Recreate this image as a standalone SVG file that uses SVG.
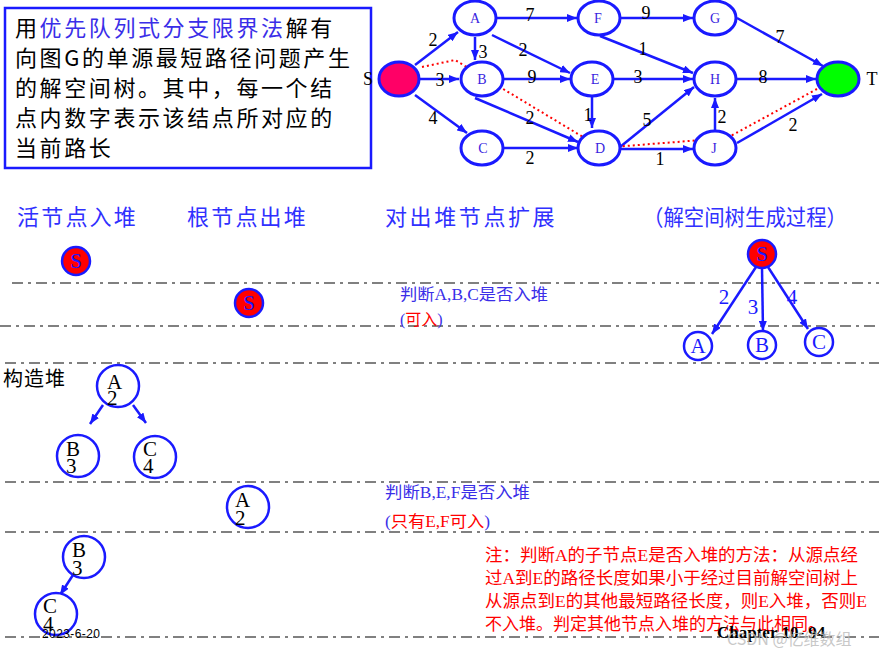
<svg xmlns="http://www.w3.org/2000/svg" width="879" height="656" viewBox="0 0 879 656">
<defs>
<marker id="ah" markerWidth="10" markerHeight="8" refX="10" refY="4" orient="auto" markerUnits="userSpaceOnUse">
<path d="M0,0 L10,4 L0,8 Z" fill="#1a1aff"/>
</marker>
<style>
.cjk{font-family:"Noto Sans CJK SC","Noto Sans CJK JP",sans-serif;}
.ser{font-family:"Liberation Serif","Noto Sans CJK SC",serif;}
.gn{fill:#fff;stroke:#1a1aff;stroke-width:3;}
.gl{font-family:"Liberation Serif",serif;font-size:14px;fill:#3a1ee0;text-anchor:middle;}
.ge{stroke:#1a1aff;stroke-width:2.5;fill:none;marker-end:url(#ah);}
.el{font-family:"Liberation Serif",serif;font-size:18px;fill:#000;text-anchor:middle;}
.sep{stroke:#808080;stroke-width:2;stroke-dasharray:11 5 3 5;}
.hn{fill:#fff;stroke:#1a1aff;stroke-width:2.5;}
.ht{font-family:"Liberation Serif",serif;font-size:21px;fill:#000;}
.hd{font-family:"Noto Sans CJK SC",sans-serif;font-size:22px;fill:#3030ff;}
.tn{fill:#fff;stroke:#1a1aff;stroke-width:2.5;}
.tl{font-family:"Liberation Serif",serif;font-size:21px;fill:#1a1aff;text-anchor:middle;}
.sn{fill:#ff0000;stroke:#1a1aff;stroke-width:2.5;}
.te{stroke:#1a1aff;stroke-width:2.5;fill:none;marker-end:url(#ah);}
</style>
</defs>

<!-- description box -->
<g id="desc">
<rect x="5" y="8" width="366" height="160" fill="#fff" stroke="#1a1aff" stroke-width="2.5"/>
<g class="cjk" font-size="22" fill="#000" letter-spacing="2.6">
<text x="15" y="36">用<tspan fill="#3a2ee8">优先队列式分支限界法</tspan>解有</text>
<text x="15" y="66">向图G的单源最短路径问题产生</text>
<text x="15" y="96">的解空间树。其中，每一个结</text>
<text x="15" y="126">点内数字表示该结点所对应的</text>
<text x="15" y="156">当前路长</text>
</g>
</g>

<!-- graph connectors -->
<g id="graph-edges">
<line class="ge" x1="415" y1="65" x2="458" y2="32"/>
<line class="ge" x1="420" y1="79" x2="459" y2="79"/>
<line class="ge" x1="415" y1="95" x2="467" y2="133"/>
<line class="ge" x1="475" y1="37" x2="475" y2="60"/>
<line class="ge" x1="492" y1="35" x2="570" y2="73"/>
<line class="ge" x1="497" y1="18" x2="577" y2="18"/>
<line class="ge" x1="503" y1="79" x2="570" y2="79"/>
<line class="ge" x1="475" y1="98" x2="578" y2="142"/>
<line class="ge" x1="503" y1="148" x2="578" y2="148"/>
<line class="ge" x1="592" y1="97" x2="592" y2="128"/>
<line class="ge" x1="613" y1="79" x2="693" y2="79"/>
<line class="ge" x1="620" y1="18" x2="693" y2="18"/>
<line class="ge" x1="600" y1="36" x2="693" y2="73"/>
<line class="ge" x1="620" y1="147" x2="694" y2="87"/>
<line class="ge" x1="620" y1="149" x2="693" y2="149"/>
<line class="ge" x1="715" y1="130" x2="715" y2="98"/>
<line class="ge" x1="737" y1="79" x2="816" y2="79"/>
<line class="ge" x1="737" y1="18" x2="823" y2="66"/>
<line class="ge" x1="737" y1="143" x2="822" y2="94"/>
<polyline points="422,67 455,60 593,143 613,147 727,138 817,89" fill="none" stroke="#ff0000" stroke-width="2" stroke-dasharray="2 3"/>
</g>

<g id="graph-edge-labels">
<text class="el" x="433" y="46">2</text>
<text class="el" x="440" y="86">3</text>
<text class="el" x="433" y="124">4</text>
<text class="el" x="483" y="58">3</text>
<text class="el" x="523" y="56">2</text>
<text class="el" x="530" y="21">7</text>
<text class="el" x="532" y="83">9</text>
<text class="el" x="530" y="124">2</text>
<text class="el" x="530" y="164">2</text>
<text class="el" x="588" y="121">1</text>
<text class="el" x="638" y="83">3</text>
<text class="el" x="646" y="19">9</text>
<text class="el" x="643" y="55">1</text>
<text class="el" x="647" y="126">5</text>
<text class="el" x="660" y="165">1</text>
<text class="el" x="722" y="123">2</text>
<text class="el" x="763" y="83">8</text>
<text class="el" x="780" y="43">7</text>
<text class="el" x="793" y="131">2</text>
</g>

<g id="gS"><ellipse cx="399" cy="79" rx="20" ry="17" fill="#ff0066" stroke="#1a1aff" stroke-width="3"/><text x="368" y="85" class="ser" font-size="18" text-anchor="middle">S</text></g>
<g id="gA"><ellipse class="gn" cx="475" cy="18" rx="21" ry="17"/><text class="gl" x="475" y="23">A</text></g>
<g id="gB"><ellipse class="gn" cx="482" cy="79" rx="21" ry="17"/><text class="gl" x="482" y="84">B</text></g>
<g id="gC"><ellipse class="gn" cx="482" cy="148" rx="21" ry="17"/><text class="gl" x="483" y="153">C</text></g>
<g id="gE"><ellipse class="gn" cx="592" cy="79" rx="21" ry="17"/><text class="gl" x="595" y="84">E</text></g>
<g id="gF"><ellipse class="gn" cx="599" cy="18" rx="21" ry="17"/><text class="gl" x="598" y="23">F</text></g>
<g id="gD"><ellipse class="gn" cx="599" cy="148" rx="21" ry="17"/><text class="gl" x="600" y="153">D</text></g>
<g id="gG"><ellipse class="gn" cx="715" cy="18" rx="21" ry="17"/><text class="gl" x="715" y="23">G</text></g>
<g id="gH"><ellipse class="gn" cx="715" cy="79" rx="21" ry="17"/><text class="gl" x="715" y="84">H</text></g>
<g id="gJ"><ellipse class="gn" cx="715" cy="148" rx="21" ry="17"/><text class="gl" x="714" y="153">J</text></g>
<g id="gT"><ellipse cx="838" cy="79" rx="21" ry="17" fill="#00ff00" stroke="#1a1aff" stroke-width="3"/><text x="872" y="85" class="ser" font-size="18" text-anchor="middle">T</text></g>

<!-- headers -->
<g id="headers">
<text class="hd" x="17" y="225" letter-spacing="2.2">活节点入堆</text>
<text class="hd" x="187" y="225" letter-spacing="2.2">根节点出堆</text>
<text class="hd" x="385" y="225" letter-spacing="2.6">对出堆节点扩展</text>
<text class="hd" x="643" y="225" fill="#ff3366" textLength="204" lengthAdjust="spacingAndGlyphs">（解空间树生成过程）</text>
</g>

<!-- separators -->
<g id="separators">
<line class="sep" x1="12" y1="283" x2="879" y2="283"/>
<line class="sep" x1="0" y1="326" x2="879" y2="326"/>
<line class="sep" x1="5" y1="363" x2="879" y2="363"/>
<line class="sep" x1="5" y1="482" x2="879" y2="482"/>
<line class="sep" x1="5" y1="532" x2="879" y2="532"/>
<line class="sep" x1="5" y1="637" x2="879" y2="637"/>
</g>

<!-- row 1 -->
<g id="s-push"><circle class="sn" cx="76" cy="261" r="14"/><text class="tl" x="76" y="268">S</text></g>
<g id="s-pop"><circle class="sn" cx="249" cy="303" r="14"/><text class="tl" x="249" y="310">S</text></g>
<g id="note1" class="ser" font-size="16">
<text x="400" y="300" fill="#3a2ee8" textLength="148" lengthAdjust="spacingAndGlyphs">判断A,B,C是否入堆</text>
<text x="400" y="325" fill="#3a2ee8">(<tspan fill="#ff0000">可入</tspan>)</text>
</g>

<!-- solution tree -->
<g id="tree-edges">
<line class="te" x1="756" y1="267" x2="712" y2="334"/>
<line class="te" x1="762" y1="268" x2="763" y2="331"/>
<line class="te" x1="768" y1="267" x2="808" y2="329"/>
</g>
<g id="tree-edge-labels">
<text class="tl" x="724" y="304">2</text>
<text class="tl" x="753" y="314">3</text>
<text class="tl" x="792" y="304">4</text>
</g>
<g id="tS"><circle class="sn" cx="762" cy="254" r="14"/><text class="tl" x="762" y="261">S</text></g>
<g id="tA"><circle class="tn" cx="698" cy="346" r="14"/><text class="tl" x="698" y="353">A</text></g>
<g id="tB"><circle class="tn" cx="762" cy="345" r="14"/><text class="tl" x="762" y="352">B</text></g>
<g id="tC"><circle class="tn" cx="819" cy="342" r="14"/><text class="tl" x="819" y="349">C</text></g>

<!-- heap construction -->
<text x="3" y="386" class="cjk" font-size="20" fill="#000" letter-spacing="1">构造堆</text>
<g id="heap-edges">
<line class="te" x1="103" y1="405" x2="90" y2="424"/>
<line class="te" x1="133" y1="405" x2="146" y2="423"/>
</g>
<g id="hA"><circle class="hn" cx="118" cy="386" r="21"/><text class="ht" x="107" y="389">A</text><text class="ht" x="107" y="405">2</text></g>
<g id="hB"><circle class="hn" cx="78" cy="456" r="21"/><text class="ht" x="66" y="456">B</text><text class="ht" x="66" y="473">3</text></g>
<g id="hC"><circle class="hn" cx="155" cy="457" r="21"/><text class="ht" x="143" y="456">C</text><text class="ht" x="143" y="473">4</text></g>

<!-- row: pop A -->
<g id="pA"><circle class="hn" cx="248" cy="507" r="21"/><text class="ht" x="235" y="507">A</text><text class="ht" x="235" y="525">2</text></g>
<g id="note2" class="ser" font-size="16">
<text x="385" y="498" fill="#3a2ee8" textLength="145" lengthAdjust="spacingAndGlyphs">判断B,E,F是否入堆</text>
<text x="385" y="527" fill="#3a2ee8" textLength="105" lengthAdjust="spacingAndGlyphs">(<tspan fill="#ff0000">只有E,F可入</tspan>)</text>
</g>

<!-- new heap -->
<g id="heap2-edges">
<line class="te" x1="73" y1="575" x2="60" y2="595"/>
</g>
<g id="h2B"><circle class="hn" cx="84" cy="557" r="21"/><text class="ht" x="72" y="557">B</text><text class="ht" x="72" y="575">3</text></g>
<g id="h2C"><circle class="hn" cx="56" cy="614" r="21"/><text class="ht" x="43" y="613">C</text><text class="ht" x="43" y="631">4</text></g>

<!-- note -->
<g id="note3" class="ser" font-size="17" fill="#ff0000">
<text x="485" y="561" textLength="373" lengthAdjust="spacingAndGlyphs">注：判断A的子节点E是否入堆的方法：从源点经</text>
<text x="485" y="584" textLength="373" lengthAdjust="spacingAndGlyphs">过A到E的路径长度如果小于经过目前解空间树上</text>
<text x="485" y="607" textLength="382" lengthAdjust="spacingAndGlyphs">从源点到E的其他最短路径长度，则E入堆，否则E</text>
<text x="485" y="630" textLength="340" lengthAdjust="spacingAndGlyphs">不入堆。判定其他节点入堆的方法与此相同。</text>
</g>

<text x="42" y="638" font-family="Liberation Sans, sans-serif" font-size="12" fill="#000" textLength="58">2023-6-20</text>
<text x="717" y="638" font-family="Liberation Serif, serif" font-size="17" font-weight="bold" fill="#000">Chapter 10- 94</text>
<text x="727" y="645" class="cjk" font-size="16" fill="#bbbbbb" opacity="0.8">CSDN @忆维数组</text>
</svg>
